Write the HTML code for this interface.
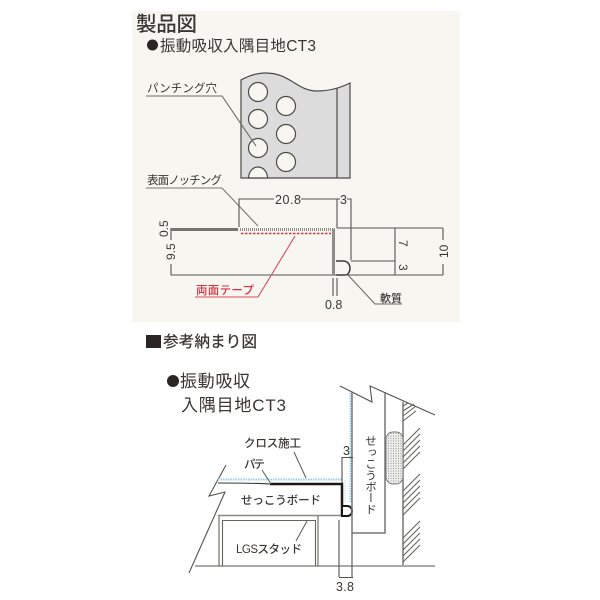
<!DOCTYPE html>
<html><head><meta charset="utf-8"><style>
html,body{margin:0;padding:0;background:#fff}
svg{display:block;filter:blur(.35px)}
text{font-family:"Liberation Sans","Noto Sans CJK JP",sans-serif;fill:#3a3634}
</style></head><body>
<svg width="600" height="600" viewBox="0 0 600 600" xmlns="http://www.w3.org/2000/svg" fill="none">
<rect x="132" y="11" width="328" height="311" fill="#f8f6f1"/>
<rect x="132" y="0" width="72" height="11" fill="#fff"/>

<text x="136" y="31" font-size="20.5" font-weight="500" textLength="61">製品図</text>
<circle cx="152.500" cy="45" r="5.500" fill="#2a2422"/>
<text x="160" y="51" font-size="15.500" textLength="156">振動吸収入隅目地CT3</text>

<!-- perforated plate -->
<path d="M241 178V80C250 75 258 73 266 73C290 73 297 91 317 91C330 91 340 88 350 83V178Z" fill="#dcdcdc" stroke="#4a4a48" stroke-width="1.200"/>
<path d="M337 88V178" stroke="#4a4a48" stroke-width="1.200"/>
<g fill="#f8f6f1" stroke="#4a4a48" stroke-width="1.200">
<circle cx="258" cy="92" r="9.500"/><circle cx="286" cy="106" r="9.500"/>
<circle cx="258" cy="119" r="9.500"/><circle cx="286" cy="134" r="9.500"/>
<circle cx="258" cy="148" r="9.500"/><circle cx="286" cy="162" r="9.500"/>
<path d="M248.500 178A9.500 11 0 0 1 267.500 178Z"/>
</g>
<text x="147" y="92" font-size="11.500" textLength="70">パンチング穴</text>
<path d="M146 96H222L256 146" stroke="#6a6a68" stroke-width="1.100"/>
<text x="147" y="184" font-size="11.500" textLength="75">表面ノッチング</text>
<path d="M146 188H222L258 226" stroke="#77776f" stroke-width="1.100"/>

<!-- section -->
<g stroke="#55534f" stroke-width="1.100">
<path d="M239 227V199H274M301 199H337H340M347 199H351V260"/>
<path d="M337 199V228M337 228H443M351 261H395M395 228V275M443 228V240M443 264V275"/>
<path d="M171 275H443M171 228V240M171 264V275"/>
<path d="M333 278V296M337 278V296"/>
</g>
<path d="M171 229.500H238" stroke="#77756f" stroke-width="3"/>
<path d="M240 229.500H336" stroke="#8d8b85" stroke-width="3" stroke-dasharray="1 1"/>
<path d="M333.500 229V275" stroke="#8d8d8a" stroke-width="3"/>
<path d="M241 233.500H331" stroke="#e0303c" stroke-width="1.500" stroke-dasharray="2.500 1.500"/>
<path d="M336 261H343C348 261 350 265 350 268C350 272 348 275 345 275H336" stroke="#3d3b38" stroke-width="1.500"/>
<path d="M348 275L375 304H402" stroke="#6a6a68" stroke-width="1.100"/>
<path d="M295 236L258 297H195" stroke="#d94b55" stroke-width="1.100"/>

<text x="275" y="204" font-size="12.500" textLength="26">20.8</text>
<text x="340" y="204" font-size="12.500">3</text>
<text transform="translate(168,237) rotate(-90)" font-size="12">0.5</text>
<text transform="translate(175,260) rotate(-90)" font-size="12">9.5</text>
<text transform="translate(399,240) rotate(90)" font-size="12">7</text>
<text transform="translate(399,264) rotate(90)" font-size="12">3</text>
<text transform="translate(448,258) rotate(-90)" font-size="12">10</text>
<text x="325" y="309" font-size="12.500">0.8</text>
<text x="196" y="294" font-size="11.500" textLength="58" font-weight="500" style="fill:#d8343f">両面テープ</text>
<text x="380" y="302" font-size="11" textLength="22" font-weight="500">軟質</text>

<rect x="146" y="335" width="15" height="13" fill="#2a2422"/>
<text x="163" y="347" font-size="15.700" font-weight="500" textLength="94">参考納まり図</text>

<circle cx="173" cy="381" r="6" fill="#2a2422"/>
<text x="180" y="387" font-size="17" textLength="70">振動吸収</text>
<text x="181" y="411" font-size="17" textLength="105">入隅目地CT3</text>

<!-- install diagram -->
<path d="M226 465L209 496L225 492L189 573" stroke="#55534f" stroke-width="1.100"/>
<path d="M340 386L372 402L370 386L435 415" stroke="#55534f" stroke-width="1.100"/>
<path d="M195 566H435" stroke="#55534f" stroke-width="1.100"/>
<path d="M218 515.500H342" stroke="#8a8a86" stroke-width="1.500"/>
<path d="M219 516V566M222.500 520V566M223 520.500H315.500V566M318 516V566" stroke="#66645f" stroke-width="1.100"/>
<path d="M218 479.500H343M350.500 393V503" stroke="#8fd0e8" stroke-width="2" stroke-dasharray="1.500 1"/>
<path d="M345 480V503" stroke="#b4dfee" stroke-width="1" stroke-dasharray="1.500 1"/>
<path d="M218 483C240 483 255 483 270 484" stroke="#3a3634" stroke-width="1.100"/>
<path d="M270 484H342V515" stroke="#1c1816" stroke-width="2.500"/>
<path d="M342 506H347C351 506 352 509 352 511C352 514 350 516 347 516H342Z" fill="#fff" stroke="#1c1816" stroke-width="2"/>
<path d="M352 392V533H385V393" stroke="#77777a" stroke-width="1.500"/>
<path d="M352 533V577M339 520V577M339 577.500H353" stroke="#55534f" stroke-width="1.100"/>
<path d="M342 483V457.500H353" stroke="#55534f" stroke-width="1.100"/>
<path d="M403 402V565" stroke="#77777a" stroke-width="1.500"/>
<defs><pattern id="d" width="2.500" height="2.500" patternUnits="userSpaceOnUse"><rect width="2.500" height="2.500" fill="#eeeeec"/><circle cx="1" cy="1" r=".6" fill="#9a9a98"/></pattern></defs>
<rect x="386" y="432" width="17" height="52" rx="7" fill="url(#d)" stroke="#77777a" stroke-width="1"/>
<g stroke="#66645f" stroke-width="1.100">
<path d="M403 406L408 403M403 411L414 404M403 416L416 406M403 421L416 411"/>
<path d="M403 445L420 428M403 451L420 434M403 457L420 440M403 463L420 446M403 469L420 452"/>
<path d="M403 491L420 474M403 497L420 480M403 503L420 486M403 509L420 492M403 515L420 498"/>
<path d="M403 538L420 521M403 544L420 527M403 550L420 533M403 556L420 539M403 562L420 545"/>
</g>
<path d="M294 452L306 478M262 470L271 484M307 521L296 541" stroke="#66645f" stroke-width="1.100"/>

<text x="244" y="447" font-size="11.500" textLength="57" font-weight="500">クロス施工</text>
<text x="244" y="468" font-size="11.500" textLength="21" font-weight="500">パテ</text>
<text x="241" y="504" font-size="11.500" textLength="80" font-weight="500">せっこうボード</text>
<text x="236" y="553" font-size="11.500" textLength="66" font-weight="500">LGSスタッド</text>
<text x="370" y="435" font-size="11.500" style="writing-mode:vertical-rl" textLength="80">せっこうボード</text>
<text x="343" y="455" font-size="12.500">3</text>
<text x="336" y="591" font-size="12.500" textLength="18">3.8</text>
</svg>
</body></html>
